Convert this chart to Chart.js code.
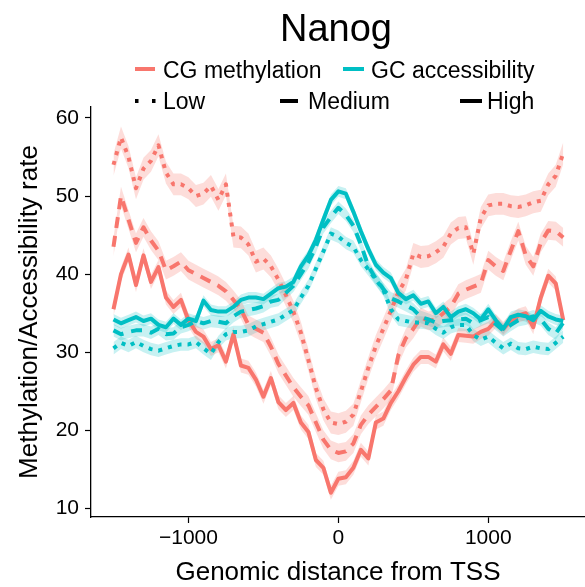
<!DOCTYPE html>
<html lang="en">
<head>
<meta charset="UTF-8">
<title>Nanog</title>
<script src="https://cdn.jsdelivr.net/npm/chart.js"></script>
<style>
  body { margin: 0; background: #fff; }
  canvas { display: block; }
</style>
</head>
<body>
<canvas id="chart" width="585" height="587"></canvas>
<script>
// genomic distance from TSS (bp)
const distance = [-1500, -1450, -1400, -1350, -1300, -1250, -1200, -1150, -1100, -1050,
  -1000, -950, -900, -850, -800, -750, -700, -650, -600, -550,
  -500, -450, -400, -350, -300, -250, -200, -150, -100, -50,
  0, 50, 100, 150, 200, 250, 300, 350, 400, 450,
  500, 550, 600, 650, 700, 750, 800, 850, 900, 950,
  1000, 1050, 1100, 1150, 1200, 1250, 1300, 1350, 1400, 1450, 1500];

// CG methylation
const methLow = [54, 57.5, 55, 51, 53.5, 54.5, 56.5, 53, 51.5, 51.5,
  51, 50, 50.3, 51.3, 49.5, 51.5, 44.8, 44.7, 43.8, 41.6,
  42, 41, 39.3, 37.3, 35.2, 32.5, 29, 25.4, 22.7, 21,
  20.8, 21.1, 22, 25, 28, 30.8, 33, 35.3, 37.7, 39.3,
  42.6, 42.2, 42.3, 42.8, 43.5, 45.2, 45.9, 46, 42.6, 47.2,
  48.8, 49, 49, 48.7, 48.6, 48.8, 49.2, 49.4, 51.5, 52.6, 55.5];
const methMedium = [43.5, 50, 47, 44, 46, 44.3, 43, 40.5, 41, 41.6,
  40.5, 40, 39.5, 39, 38.5, 37.8, 36.7, 35.5, 33.5, 33,
  32.5, 30.7, 28.5, 27, 25.5, 24.3, 23.2, 21, 18.8, 17.5,
  17.1, 17.3, 18.3, 20.7, 22, 23, 24, 25.1, 29.6, 31.8,
  33, 34.5, 34, 34.2, 35, 35.8, 37.5, 38, 38.4, 38.8,
  41.8, 41, 40.4, 43, 45.5, 42.4, 41, 44, 45.6, 45.5, 44.7];
const methHigh = [35.5, 40, 42.5, 38.6, 42.4, 39, 40.9, 37, 35.8, 36.7,
  34.1, 32.6, 32, 30.4, 30.9, 28.8, 32.3, 28.3, 28, 26.5,
  24.3, 26.7, 23.6, 22.6, 23.5, 21, 19.8, 16.2, 15.2, 12,
  13.8, 14, 15.2, 17.5, 16.4, 21, 21.5, 23.5, 25, 26.8,
  28.4, 29.4, 29.4, 28.8, 31, 29.8, 32.2, 32.1, 32, 32.6,
  33, 34, 33, 34, 34.7, 35, 33.2, 37, 39.8, 38.8, 34.1];

// GC accessibility
const accLow = [30.5, 31.2, 30.8, 31.3, 30.8, 30.4, 30.2, 30.5, 30.8, 31,
  31, 31.3, 30.5, 29.8, 31.3, 32.3, 32.6, 32.6, 32.8, 33.3,
  33.6, 33.9, 34.2, 34.8, 35.4, 37, 38.5, 40.7, 42.9, 45.2,
  44.8, 44, 43.5, 41.8, 40.6, 39.3, 38, 35.5, 34.2, 34,
  33.8, 33.8, 33.7, 33, 32.5, 33.2, 33.5, 33.5, 32.2, 31.6,
  32, 31.2, 30.5, 31.1, 30.5, 30.4, 30.7, 30.5, 30.4, 31.2, 32];
const accMedium = [32.8, 32.3, 32.6, 32.8, 32.8, 32.5, 33, 32.3, 32.4, 33.2,
  33.5, 34, 33.7, 34, 33.9, 33.7, 34.6, 35.2, 35.4, 35.6,
  35.9, 36.5, 36.7, 37.6, 38.5, 40, 41.5, 43.5, 46, 47.3,
  48.5, 47.6, 46.2, 43.8, 41, 39.4, 38.1, 36.9, 36.5, 36,
  35.5, 34.5, 34.2, 33.8, 34, 34.1, 34.2, 34.3, 33.7, 34.1,
  34.5, 33.6, 32.8, 33.5, 34.1, 34.3, 34.6, 34.2, 33, 32.4, 33.8];
const accHigh = [34.2, 33.7, 34.1, 34.5, 34, 34.3, 33.5, 33.2, 34.3, 33.5,
  34.3, 34, 36.6, 35.4, 35.2, 35.2, 35.8, 36.7, 37, 37,
  36.8, 37.5, 38.2, 38.4, 39, 41, 42.4, 44.4, 47, 49.5,
  50.6, 50.3, 48, 45.5, 43.2, 41.2, 40.2, 39.5, 37.6, 36.8,
  37.3, 36.2, 36.5, 35, 35.8, 34.5, 35.2, 35.5, 35, 34.2,
  35.5, 34.1, 33, 34.5, 34.8, 34.6, 34.1, 35.3, 34.6, 34.2, 34];

// standard error half-width of each ribbon
const methLowSE = 1.4, methMediumSE = 1.2, methHighSE = 0.9;
const accLowSE = 0.8, accMediumSE = 0.8, accHighSE = 0.7;

const xTicks = [-1000, 0, 1000];
const yTicks = [10, 20, 30, 40, 50, 60];

const titleText = 'Nanog';
const colourLabels = ['CG methylation', 'GC accessibility'];
const levelLabels = ['Low', 'Medium', 'High'];
const xTitle = 'Genomic distance from TSS';
const yTitle = 'Methylation/Accessibility rate';

const RED = '#F8766D';
const TEAL = '#00BFC4';
const RED_FILL = 'rgba(248,118,109,0.25)';
const TEAL_FILL = 'rgba(0,191,196,0.22)';
const FONT = '"Liberation Sans", Arial, Helvetica, sans-serif';
const DASH = { Low: [4, 6], Medium: [11, 8], High: [] };

const pts = (ys, off) => distance.map((x, i) => ({ x: x, y: ys[i] + (off || 0) }));

const ribbon = (ys, se, fillColour) => [
  { data: pts(ys, -se), borderWidth: 0, borderColor: 'rgba(0,0,0,0)', pointRadius: 0, fill: false, order: 50 },
  { data: pts(ys, se), borderWidth: 0, borderColor: 'rgba(0,0,0,0)', pointRadius: 0, fill: '-1', backgroundColor: fillColour, order: 50 }
];

const line = (ys, colour, level, order) => ({
  label: level,
  data: pts(ys),
  borderColor: colour,
  borderWidth: 4,
  borderDash: DASH[level],
  borderCapStyle: 'butt',
  borderJoinStyle: 'round',
  pointRadius: 0,
  tension: 0,
  fill: false,
  order: order
});

const datasets = [
  ...ribbon(methLow, methLowSE, RED_FILL),
  ...ribbon(methMedium, methMediumSE, RED_FILL),
  ...ribbon(methHigh, methHighSE, RED_FILL),
  ...ribbon(accLow, accLowSE, TEAL_FILL),
  ...ribbon(accMedium, accMediumSE, TEAL_FILL),
  ...ribbon(accHigh, accHighSE, TEAL_FILL),
  line(methLow, RED, 'Low', 12),
  line(methMedium, RED, 'Medium', 11),
  line(methHigh, RED, 'High', 10),
  line(accLow, TEAL, 'Low', 3),
  line(accMedium, TEAL, 'Medium', 2),
  line(accHigh, TEAL, 'High', 1)
];

// title, the two legend rows and the axis titles
const overlay = {
  id: 'overlay',
  afterDraw(chart) {
    const ctx = chart.ctx;
    ctx.save();
    ctx.fillStyle = '#000';
    ctx.textBaseline = 'alphabetic';

    ctx.font = '38px ' + FONT;
    ctx.textAlign = 'center';
    ctx.fillText(titleText, 336, 41);

    const key = (x1, x2, y, colour, dash) => {
      ctx.beginPath();
      ctx.setLineDash(dash);
      ctx.lineCap = 'butt';
      ctx.lineWidth = 4;
      ctx.strokeStyle = colour;
      ctx.moveTo(x1, y);
      ctx.lineTo(x2, y);
      ctx.stroke();
    };
    key(135, 155, 69, RED, []);
    key(343, 364, 69, TEAL, []);
    key(135, 156, 101, '#000', [3.5, 13.5]);
    key(280, 298, 101, '#000', []);
    key(460, 482, 101, '#000', []);
    ctx.setLineDash([]);

    ctx.font = '23px ' + FONT;
    ctx.textAlign = 'left';
    ctx.fillText(colourLabels[0], 163, 78);
    ctx.fillText(colourLabels[1], 371, 78);
    ctx.fillText(levelLabels[0], 163, 109);
    ctx.fillText(levelLabels[1], 308, 109);
    ctx.fillText(levelLabels[2], 487, 109);

    ctx.font = '26px ' + FONT;
    ctx.textAlign = 'center';
    ctx.fillText(xTitle, 338, 580);
    ctx.translate(37, 312);
    ctx.rotate(-Math.PI / 2);
    ctx.fillText(yTitle, 0, 0);
    ctx.restore();
  }
};

new Chart(document.getElementById('chart'), {
  type: 'line',
  data: { datasets: datasets },
  plugins: [overlay],
  options: {
    responsive: false,
    animation: false,
    devicePixelRatio: 1,
    layout: { padding: { top: 107, left: 0, right: 0, bottom: 0 } },
    plugins: {
      legend: { display: false },
      tooltip: { enabled: false },
      title: { display: false }
    },
    scales: {
      x: {
        type: 'linear',
        min: -1650,
        max: 1645,
        afterBuildTicks: s => { s.ticks = xTicks.map(v => ({ value: v })); },
        afterFit: s => { s.height = 70; },
        grid: { display: true, drawOnChartArea: false, drawTicks: true, tickLength: 6, tickWidth: 1.2, tickColor: '#000' },
        border: { display: true, color: '#000', width: 1.3 },
        ticks: {
          color: '#000',
          font: { size: 21, family: FONT },
          padding: 3,
          maxRotation: 0,
          autoSkip: false,
          callback: v => (v < 0 ? '\u2212' + Math.abs(v) : String(v))
        }
      },
      y: {
        type: 'linear',
        min: 8.9,
        max: 61.4,
        afterBuildTicks: s => { s.ticks = yTicks.map(v => ({ value: v })); },
        afterFit: s => { s.width = 91; },
        grid: { display: true, drawOnChartArea: false, drawTicks: true, tickLength: 6, tickWidth: 1.2, tickColor: '#000' },
        border: { display: true, color: '#000', width: 1.3 },
        ticks: {
          color: '#000',
          font: { size: 21, family: FONT },
          padding: 6,
          autoSkip: false
        }
      }
    }
  }
});
</script>
</body>
</html>
